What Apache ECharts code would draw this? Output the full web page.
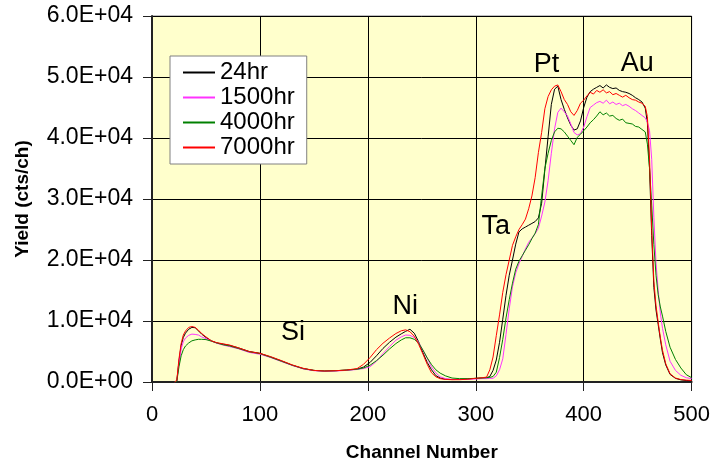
<!DOCTYPE html>
<html>
<head>
<meta charset="utf-8">
<title>RBS spectra vs. ageing time</title>
<script src="https://cdn.jsdelivr.net/npm/echarts@6/dist/echarts.min.js"></script>
<style>
  html, body { margin: 0; padding: 0; background: #ffffff; }
  #chart { width: 713px; height: 468px; }
</style>
</head>
<body>
<div id="chart"></div>
<script>
// Channel numbers shared by all four spectra
const channels = [
  21, 23, 25, 27, 29, 31, 34, 37, 40, 43,
  46, 50, 55, 60, 66, 72, 80, 90, 100, 110,
  120, 130, 140, 150, 160, 170, 180, 190, 196, 202,
  208, 214, 220, 226, 231, 235, 239, 243, 247, 251,
  255, 259, 263, 267, 272, 278, 285, 292, 300, 306,
  310, 313, 316, 319, 322, 325, 328, 331, 334, 337,
  340, 343, 346, 349, 352, 355, 358, 361, 364, 367,
  370, 373, 376, 379, 382, 385, 388, 391, 394, 397,
  400, 403, 406, 409, 412, 415, 418, 421, 424, 427,
  430, 433, 436, 439, 442, 445, 448, 451, 454, 457,
  459, 461, 463, 465, 467, 469, 471, 473, 476, 480,
  485, 490, 495, 500
];

// Yield (cts/ch) per channel
const yield24hr = [
  0, 200, 3400, 6000, 7300, 8000, 8650, 8950, 8900, 8400,
  7850, 7300, 6750, 6400, 6200, 6000, 5600, 5000, 4700, 4100,
  3450, 2750, 2200, 1900, 1800, 1850, 1950, 2100, 2450, 3200,
  4300, 5500, 6500, 7350, 7900, 8300, 8650, 8000, 6600, 4800,
  3200, 2000, 1050, 650, 450, 400, 420, 480, 600, 650,
  700, 900, 1900, 3600, 6500, 10300, 14200, 17500, 20000, 22600,
  24600, 25100, 25400, 25700, 26000, 26300, 26900, 29300, 34800, 40200,
  45500, 48000, 48500, 46300, 44700, 43300, 42100, 41300, 41500, 42800,
  45000, 46700, 47600, 48000, 48300, 48600, 48200, 48700, 48300, 48100,
  48200, 47800, 47600, 47500, 47300, 47000, 46600, 46300, 45900, 44900,
  42500, 35000, 24000, 15500, 11800, 9400, 7000, 4800, 2800, 1250,
  600, 350, 250, 200
];

const yield1500hr = [
  0, 150, 3000, 5400, 6600, 7200, 7650, 7850, 7800, 7700,
  7400, 7100, 6700, 6350, 6050, 5800, 5450, 4850, 4550, 4000,
  3350, 2700, 2150, 1850, 1750, 1800, 1900, 2050, 2200, 2500,
  3400, 4650, 5800, 6850, 7400, 7700, 7650, 7300, 6500, 5200,
  3900, 2450, 1500, 850, 550, 420, 420, 450, 500, 550,
  550, 600, 600, 1000, 2000, 3800, 7800, 12000, 15600, 17900,
  19400, 20600, 21800, 22900, 23600, 24300, 25200, 27200, 29500, 33000,
  37500, 41500, 44200, 44900, 44300, 43600, 42300, 40900, 40500, 40700,
  41800, 43500, 45000, 45400, 45800, 46000, 45700, 46200, 45600, 45900,
  45500, 45700, 45300, 45500, 45200, 44800, 44500, 44100, 43700, 43300,
  42600, 41200, 36500, 27000, 19500, 15000, 11300, 8800, 6100, 3400,
  1900, 1100, 700, 550
];

const yield4000hr = [
  0, 100, 2500, 4300, 5300, 5900, 6400, 6750, 6900, 7000,
  7000, 6950, 6700, 6400, 6100, 5900, 5500, 4950, 4650, 4050,
  3400, 2750, 2200, 1900, 1800, 1850, 1950, 2100, 2300, 2750,
  3500, 4400, 5400, 6300, 6900, 7250, 7250, 7000, 6400, 5250,
  3950, 2850, 2000, 1450, 1000, 650, 550, 550, 600, 650,
  700, 750, 900, 1600, 4000, 7000, 10500, 13500, 16200, 18500,
  19800, 20700, 21600, 22500, 23500, 24400, 25800, 30500, 35000, 37500,
  39600, 41000, 41600, 41500, 41000, 40300, 39600, 38900, 40100, 40600,
  41200, 41800, 42500, 43000, 43600, 44300, 43800, 44100, 43600, 43700,
  43200, 42900, 43100, 42500, 42400, 42300, 41900, 41800, 41400, 41000,
  39000, 35000, 29000, 22500, 17500, 14300, 12300, 10800, 8300, 5700,
  3700, 2300, 1200, 700
];

const yield7000hr = [
  0, 300, 3800, 6300, 7700, 8350, 8950, 9100, 8950, 8500,
  7950, 7400, 6750, 6450, 6250, 6050, 5600, 5000, 4700, 4150,
  3500, 2800, 2250, 1900, 1800, 1850, 1950, 2200, 2900, 4000,
  5300, 6350, 7200, 7950, 8400, 8550, 8250, 7500, 6200, 4600,
  2900, 1500, 850, 550, 420, 380, 380, 450, 600, 700,
  800, 2000, 4100, 7600, 11000, 14700, 17600, 20000, 22400, 23800,
  25000, 25800, 26700, 28400, 30500, 33500, 37600, 40900, 44800, 46800,
  47900, 48500, 48700, 47600, 46300, 45500, 44300, 43700, 44500, 45700,
  46200, 46900, 47500, 47200, 47800, 47500, 47900, 47400, 47600, 47100,
  47300, 47000, 46700, 47000, 46600, 46300, 46200, 45900, 45700, 45200,
  43500, 36500, 25000, 16500, 12500, 9800, 7300, 5200, 3000, 1350,
  650, 400, 300, 250
];

const seriesNames = ['24hr', '1500hr', '4000hr', '7000hr'];
const seriesValues = [yield24hr, yield1500hr, yield4000hr, yield7000hr];
const seriesColors = ['#000000', '#ff33ff', '#008000', '#ff0000'];

// Element labels placed in data coordinates (channel, yield)
const noteNames = ['Si', 'Ni', 'Ta', 'Pt', 'Au'];
const noteX = [131, 235, 319, 366, 450];
const noteY = [8000, 12300, 25400, 52000, 52100];

// Axis ranges
const xMin = 0, xMax = 500, xStep = 100;
const yMin = 0, yMax = 60000, yStep = 10000;

const FONT = 'Arial, "Liberation Sans", sans-serif';

function sci(v) {
  if (v === 0) return '0.0E+00';
  const e = Math.floor(Math.log10(Math.abs(v)));
  const m = v / Math.pow(10, e);
  return m.toFixed(1) + 'E' + (e < 0 ? '-' : '+') + String(Math.abs(e)).padStart(2, '0');
}

const lineSeries = seriesNames.map((name, k) => ({
  name: name,
  type: 'line',
  data: channels.map((c, i) => [c, seriesValues[k][i]]),
  showSymbol: false,
  symbol: 'none',
  lineStyle: { color: seriesColors[k], width: 1 },
  itemStyle: { color: seriesColors[k] },
  z: 3 + k
}));

const noteSeries = {
  name: 'notes',
  type: 'scatter',
  silent: true,
  symbolSize: 1,
  itemStyle: { color: 'rgba(0,0,0,0)' },
  data: noteNames.map((n, i) => [noteX[i], noteY[i], n]),
  label: {
    show: true,
    position: [0, 0],
    align: 'center',
    verticalAlign: 'middle',
    formatter: p => p.value[2],
    color: '#000000',
    opacity: 1,
    fontFamily: FONT,
    fontSize: 27
  },
  z: 10
};

// Thin bar icon for the legend keys
const legendIcon = 'path://M0,0H32V2H0Z';

const chart = echarts.init(document.getElementById('chart'), null, { renderer: 'canvas' });
chart.setOption({
  animation: false,
  backgroundColor: '#ffffff',
  textStyle: { fontFamily: FONT, color: '#000' },
  grid: {
    left: 152, right: 21, top: 16, bottom: 86,
    show: true,
    backgroundColor: '#ffffcc',
    borderColor: '#808080',
    borderWidth: 1
  },
  legend: {
    orient: 'vertical',
    left: 170,
    top: 56,
    padding: [4, 12, 4, 13],
    itemGap: 0,
    itemWidth: 32,
    itemHeight: 15,
    symbolKeepAspect: true,
    backgroundColor: '#ffffff',
    borderColor: '#808080',
    borderWidth: 1,
    data: seriesNames.map((n, k) => ({
      name: n,
      icon: legendIcon,
      itemStyle: { color: seriesColors[k], borderWidth: 0 }
    })),
    textStyle: { fontFamily: FONT, fontSize: 24, lineHeight: 25, color: '#000' }
  },
  xAxis: {
    type: 'value',
    min: xMin, max: xMax, interval: xStep,
    name: 'Channel Number',
    nameLocation: 'middle',
    nameGap: 61,
    nameTextStyle: { fontFamily: FONT, fontSize: 19, fontWeight: 'bold', color: '#000' },
    axisLine: { show: true, onZero: false, lineStyle: { color: '#222', width: 2 } },
    axisTick: { show: true, inside: false, length: 9, lineStyle: { color: '#222', width: 1 } },
    axisLabel: { margin: 22, fontFamily: FONT, fontSize: 22, color: '#000' },
    splitLine: { show: true, lineStyle: { color: '#000', width: 1 } }
  },
  yAxis: {
    type: 'value',
    min: yMin, max: yMax, interval: yStep,
    name: 'Yield (cts/ch)',
    nameLocation: 'middle',
    nameGap: 120,
    nameRotate: 90,
    nameTextStyle: { fontFamily: FONT, fontSize: 19, fontWeight: 'bold', color: '#000' },
    axisLine: { show: true, onZero: false, lineStyle: { color: '#222', width: 2 } },
    axisTick: { show: true, inside: false, length: 9, lineStyle: { color: '#222', width: 1 } },
    axisLabel: { margin: 19, fontFamily: FONT, fontSize: 23, color: '#000', formatter: sci },
    splitLine: { show: true, lineStyle: { color: '#000', width: 1 } }
  },
  series: lineSeries.concat([noteSeries])
});
</script>
</body>
</html>
